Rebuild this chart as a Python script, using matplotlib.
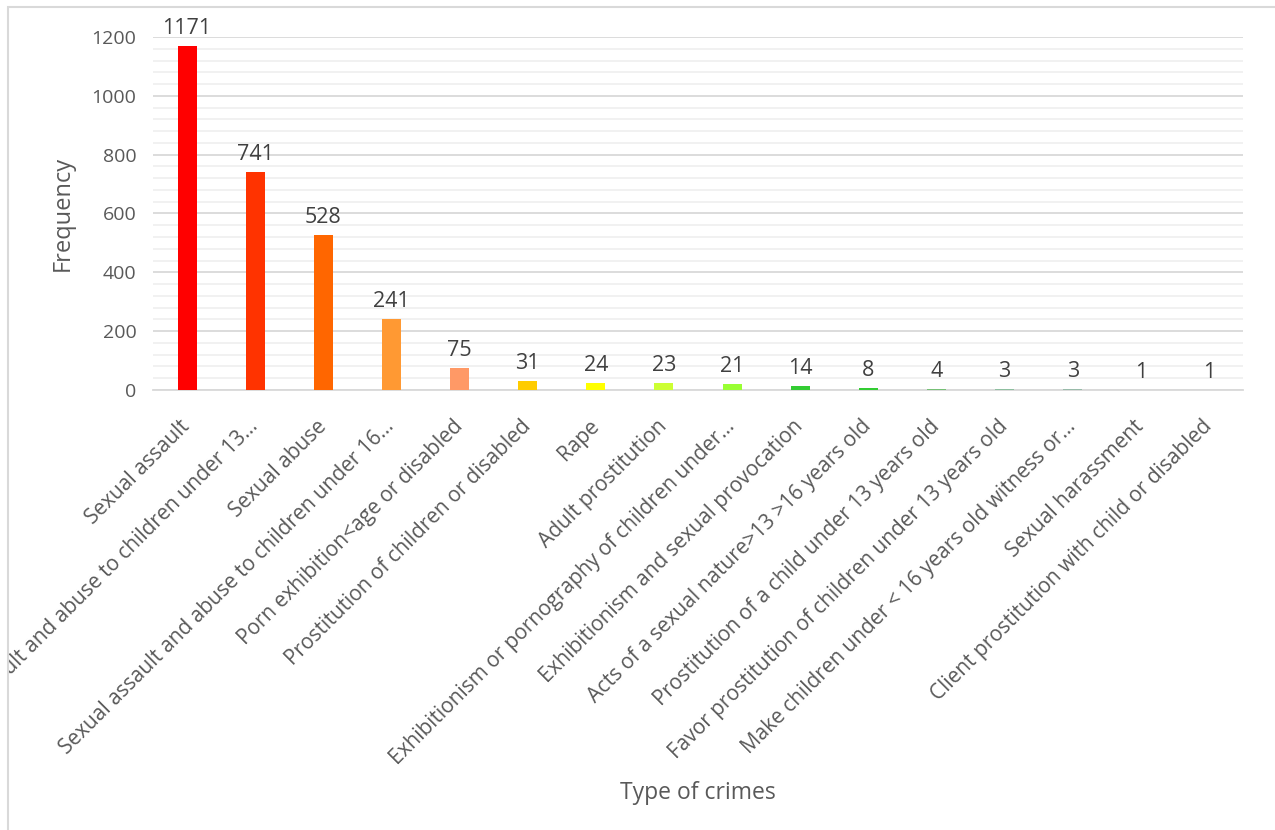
import numpy as np
import matplotlib
matplotlib.use("Agg")
import matplotlib.pyplot as plt
from matplotlib.patches import Rectangle
from matplotlib.transforms import Bbox
from matplotlib.ticker import MultipleLocator

plt.rcParams['font.family'] = ['Open Sans', 'DejaVu Sans']

# Data
crimes = [
    "Sexual assault",
    "Sexual assault and abuse to children under 13...",
    "Sexual abuse",
    "Sexual assault and abuse to children under 16...",
    "Porn exhibition<age or disabled",
    "Prostitution of children or disabled",
    "Rape",
    "Adult prostitution",
    "Exhibitionism or pornography of children under...",
    "Exhibitionism and sexual provocation",
    "Acts of a sexual nature>13 >16 years old",
    "Prostitution of a child under 13 years old",
    "Favor prostitution of children under 13 years old",
    "Make children under < 16 years old witness or...",
    "Sexual harassment",
    "Client prostitution with child or disabled",
]
frequency = [1171, 741, 528, 241, 75, 31, 24, 23, 21, 14, 8, 4, 3, 3, 1, 1]
bar_colors = ["#FF0000", "#FF3300", "#FF6600", "#FF9933", "#FF9966", "#FFCC00",
              "#FFFF00", "#CCFF33", "#99FF33", "#33CC33", "#33CC33", "#77C077",
              "#8FBFA0", "#99BBAA", "#DDDDDD", "#DDDDDD"]

fig = plt.figure(figsize=(12.75, 8.3), dpi=100)
ax = fig.add_axes([153 / 1275, 1 - 390 / 830, (1243 - 153) / 1275, (390 - 37) / 830])

x = np.arange(len(crimes))
ax.bar(x, frequency, width=0.28, color=bar_colors, zorder=3)

for xi, v in zip(x, frequency):
    ax.annotate(str(v), (xi, v), xytext=(0, 5), textcoords="offset points",
                ha="center", va="bottom", fontsize=15.5, color="#404040")

ax.set_xlim(-0.5, len(crimes) - 0.5)
ax.set_ylim(0, 1200)
ax.yaxis.set_major_locator(MultipleLocator(200))
ax.yaxis.set_minor_locator(MultipleLocator(40))
ax.grid(axis="y", which="major", color="#D9D9D9", linewidth=1.3, zorder=0)
ax.grid(axis="y", which="minor", color="#F0F0F0", linewidth=1.3, zorder=0)
ax.set_axisbelow(True)

for s in ["top", "right", "left"]:
    ax.spines[s].set_visible(False)
ax.spines["bottom"].set_color("#D9D9D9")
ax.spines["bottom"].set_linewidth(1.3)
ax.tick_params(axis="both", which="both", length=0, labelcolor="#595959")
ax.tick_params(axis="y", pad=12, labelsize=14)

ax.set_xticks(x)
ax.set_xticklabels(crimes, rotation=45, ha="right", va="center", rotation_mode="anchor")
ax.tick_params(axis="x", pad=24, labelsize=15)

ax.set_ylabel("Frequency", fontsize=17, color="#595959", labelpad=12)
ax.set_xlabel("Type of crimes", fontsize=16.5, color="#595959")
ax.xaxis.set_label_coords(0.5, 1 - (781 - 37) / (390 - 37), transform=ax.transAxes)

# chart border, labels clipped to it
clip = Bbox.from_extents(8, 0, 1275, 830 - 7)
for lab in ax.get_xticklabels():
    lab.set_clip_box(clip)
    lab.set_clip_on(True)
fig.patches.append(Rectangle((8 / 1275, -0.01), 1.05, 1 - 7 / 830 + 0.01,
                             transform=fig.transFigure, fill=False,
                             edgecolor="#D9D9D9", linewidth=1.5))

fig.savefig("out.png", dpi=100)
